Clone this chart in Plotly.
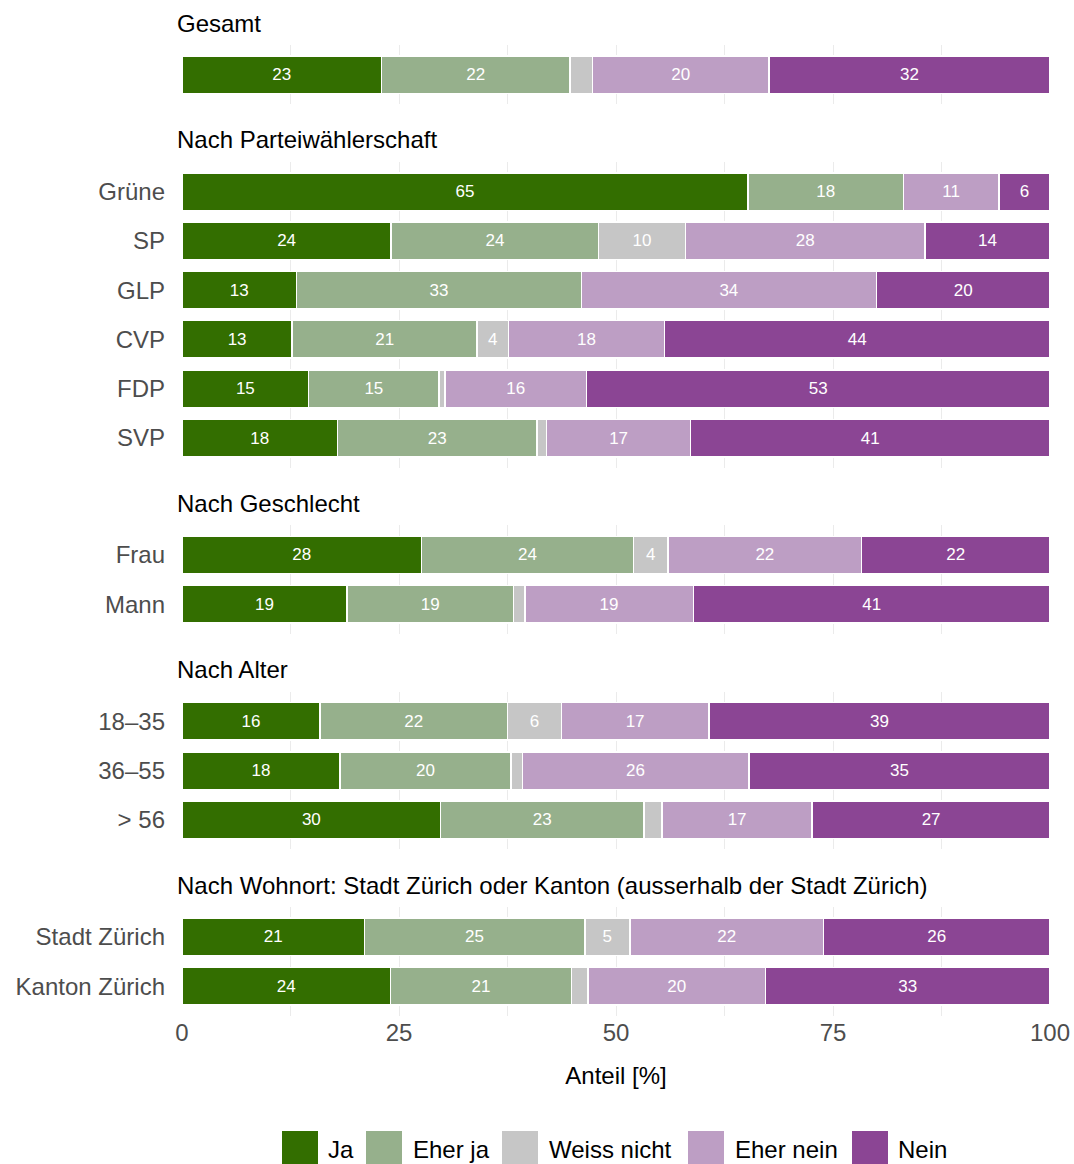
import plotly.graph_objects as go

# ---------------- data ----------------
group_titles = [
    "Gesamt",
    "Nach Parteiwählerschaft",
    "Nach Geschlecht",
    "Nach Alter",
    "Nach Wohnort: Stadt Zürich oder Kanton (ausserhalb der Stadt Zürich)",
]
row_labels = ["Gesamt", "Grüne", "SP", "GLP", "CVP", "FDP", "SVP",
              "Frau", "Mann", "18–35", "36–55", "> 56",
              "Stadt Zürich", "Kanton Zürich"]
row_group = [0, 1, 1, 1, 1, 1, 1, 2, 2, 3, 3, 3, 4, 4]

responses = ["Ja", "Eher ja", "Weiss nicht", "Eher nein", "Nein"]
ja          = [23.0, 65.2, 24.1, 13.2, 12.7, 14.6, 17.9, 27.6, 19.0, 15.9, 18.2, 29.8, 21.0, 24.0]
eher_ja     = [21.7, 17.9, 23.9, 32.8, 21.3, 15.0, 23.0, 24.4, 19.2, 21.6, 19.7, 23.4, 25.4, 20.9]
weiss_nicht = [2.6, 0.0, 10.0, 0.0, 3.6, 0.7, 1.1, 4.0, 1.3, 6.2, 1.3, 2.1, 5.2, 1.9]
eher_nein   = [20.3, 11.0, 27.6, 34.0, 18.0, 16.3, 16.6, 22.3, 19.4, 17.0, 26.1, 17.3, 22.3, 20.4]
nein        = [32.4, 5.9, 14.4, 20.0, 44.4, 53.4, 41.4, 21.7, 41.1, 39.3, 34.7, 27.4, 26.1, 32.8]

x_ticks = [0, 25, 50, 75, 100]
x_title = "Anteil [%]"

# ---------------- style ----------------
colors = ["#336E00", "#96B08C", "#C6C6C6", "#BD9EC4", "#8B4594"]
FONT = "Liberation Sans, Arial, sans-serif"
W, H = 1074, 1164
M_L, M_R, M_T, M_B = 182, 24, 45, 148
PW, PH = W - M_L - M_R, H - M_T - M_B
UNIT = 49.3   # px per category
GAP = 57.8    # px between panels


def px_x(px):
    return (px - M_L) / PW


def px_y(py):
    return (H - M_B - py) / PH


series = [ja, eher_ja, weiss_nicht, eher_nein, nein]
n_groups = len(group_titles)

fig = go.Figure()

# panel domains (pixel based, from top)
domains = []
top = M_T
for g in range(n_groups):
    n = row_group.count(g)
    h = (n + 0.2) * UNIT
    domains.append((top, top + h))
    top += h + GAP

for g in range(n_groups):
    idx = [i for i, rg in enumerate(row_group) if rg == g]
    labels = [row_labels[i] for i in idx]
    for r, name in enumerate(responses):
        vals = [series[r][i] for i in idx]
        txt = [f"{round(v)}" if v >= 3 else "" for v in vals]
        fig.add_trace(go.Bar(
            y=labels, x=vals, orientation="h", name=name,
            marker=dict(color=colors[r], line=dict(color="white", width=1.5)),
            width=0.76,
            text=txt, textposition="inside", insidetextanchor="middle",
            textangle=0, constraintext="none",
            textfont=dict(color="white", size=17, family=FONT),
            xaxis=f"x{g+1}", yaxis=f"y{g+1}",
            showlegend=False, hoverinfo="x+y+name",
        ))

layout = dict(
    width=W, height=H,
    margin=dict(l=M_L, r=M_R, t=M_T, b=M_B, autoexpand=False),
    barmode="stack",
    plot_bgcolor="white", paper_bgcolor="white",
    font=dict(family=FONT, size=24, color="black"),
    showlegend=False,
    uniformtext=dict(minsize=17, mode="show"),
)

annotations = []
shapes = []
for g in range(n_groups):
    k = g + 1
    n = row_group.count(g)
    labels = [row_labels[i] for i, rg in enumerate(row_group) if rg == g]
    t, b = domains[g]
    layout[f"xaxis{k}"] = dict(
        domain=[0, 1], range=[0, 100], anchor=f"y{k}",
        tickvals=x_ticks, showticklabels=(g == n_groups - 1),
        showgrid=True, gridcolor="#EBEBEB", gridwidth=1.2,
        minor=dict(dtick=12.5, tick0=0, showgrid=True, gridcolor="#EBEBEB", gridwidth=0.8),
        zeroline=False, showline=False, ticks="", automargin=False,
        tickfont=dict(size=24, color="#4D4D4D", family=FONT),
        ticklabelstandoff=0,
        title=dict(text=x_title, font=dict(size=24, color="black"), standoff=22)
        if g == n_groups - 1 else None,
        fixedrange=True,
    )
    layout[f"yaxis{k}"] = dict(
        domain=[px_y(b), px_y(t)], anchor=f"x{k}",
        type="category", categoryorder="array", categoryarray=labels,
        range=[n - 0.4, -0.6],
        showgrid=False, zeroline=False, showline=False, ticks="", automargin=False,
        showticklabels=(g != 0),
        tickfont=dict(size=24, color="#4D4D4D", family=FONT),
        ticklabelstandoff=16,
        fixedrange=True,
    )
    annotations.append(dict(
        text=group_titles[g], xref="paper", yref="paper",
        x=px_x(175), y=px_y(t), xanchor="left", yanchor="middle",
        yshift=22, showarrow=False,
        font=dict(size=24, color="black", family=FONT),
    ))

# manual legend (large square keys)
key_left = [282, 366, 502, 688, 852]
text_left = [326, 411, 547, 733, 896]
key_size = 36
key_cy = 1149
for r, name in enumerate(responses):
    shapes.append(dict(
        type="rect", xref="paper", yref="paper",
        x0=px_x(key_left[r]), x1=px_x(key_left[r] + key_size),
        y0=px_y(key_cy + key_size / 2), y1=px_y(key_cy - key_size / 2),
        fillcolor=colors[r], line=dict(width=0), layer="above",
    ))
    annotations.append(dict(
        text=name, xref="paper", yref="paper",
        x=px_x(text_left[r]), y=px_y(key_cy), xanchor="left", yanchor="middle",
        showarrow=False, font=dict(size=24, color="black", family=FONT),
    ))

layout["annotations"] = annotations
layout["shapes"] = shapes
fig.update_layout(**layout)

fig.write_html(
    "out.html",
    config={"displayModeBar": False},
    post_script="document.body.style.margin='0px';document.body.style.overflow='hidden';",
)
